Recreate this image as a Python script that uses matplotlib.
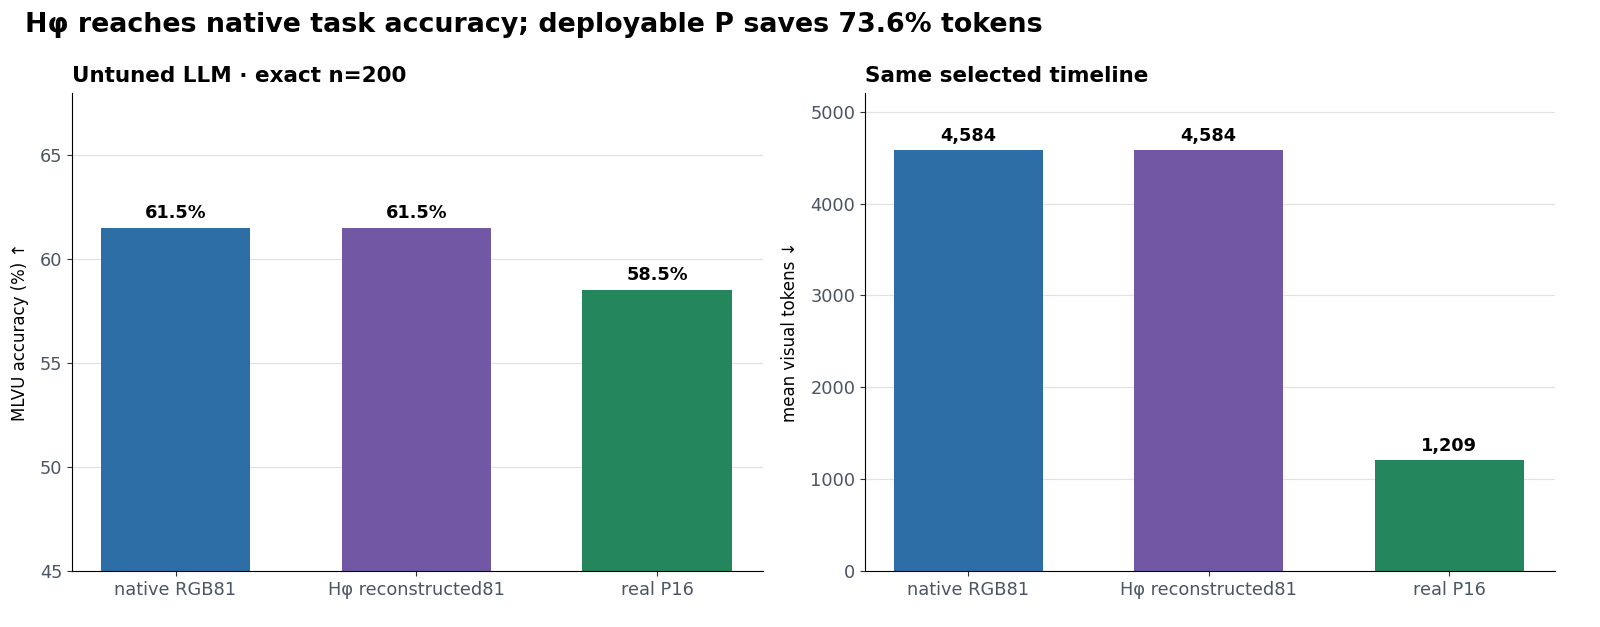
import matplotlib
matplotlib.use("Agg")
from matplotlib import pyplot as plt

methods = ["native RGB81", "Hφ reconstructed81", "real P16"]
accuracy = [61.5, 61.5, 58.5]
tokens = [4584, 4584, 1209]
colors = ["#2E6EA6", "#7257A4", "#24865C"]

tick_grey = "#4B5563"


def style_axis(ax):
    ax.spines["top"].set_visible(False)
    ax.spines["right"].set_visible(False)
    ax.yaxis.grid(True, color="#E3E3E3", linewidth=0.9)
    ax.set_axisbelow(True)
    ax.tick_params(axis="both", labelsize=12.8, colors=tick_grey)
    ax.tick_params(axis="both", color="#333333")
    ax.set_xlim(-0.43, 2.44)


def main():
    fig = plt.figure(figsize=(16, 6.27), dpi=100)
    ax1 = fig.add_axes([72 / 1600, 1 - 571 / 627, 691 / 1600, 478 / 627])
    ax2 = fig.add_axes([865 / 1600, 1 - 571 / 627, 690 / 1600, 478 / 627])

    x = range(len(methods))

    ax1.bar(x, accuracy, width=0.62, color=colors)
    ax1.set_ylim(45, 68)
    ax1.set_yticks([45, 50, 55, 60, 65])
    for i, v in enumerate(accuracy):
        ax1.text(i, v + 0.3, "%.1f%%" % v, ha="center", va="bottom",
                 fontsize=12.8, fontweight="bold")
    ax1.set_ylabel("MLVU accuracy (%) ↑", fontsize=12, labelpad=8)
    ax1.set_title("Untuned LLM · exact n=200", loc="left", fontsize=15.5,
                  fontweight="bold", pad=8)

    ax2.bar(x, tokens, width=0.62, color=colors)
    ax2.set_ylim(0, 5205)
    ax2.set_yticks([0, 1000, 2000, 3000, 4000, 5000])
    for i, v in enumerate(tokens):
        ax2.text(i, v + 55, "{:,}".format(v), ha="center", va="bottom",
                 fontsize=12.8, fontweight="bold")
    ax2.set_ylabel("mean visual tokens ↓", fontsize=12, labelpad=8)
    ax2.set_title("Same selected timeline", loc="left", fontsize=15.5,
                  fontweight="bold", pad=8)

    for ax in (ax1, ax2):
        style_axis(ax)
        ax.set_xticks(list(x))
        ax.set_xticklabels(methods)

    fig.text(25 / 1600, 1 - 25 / 627, "Hφ reaches native task accuracy; deployable P saves 73.6% tokens",
             fontsize=19.4, fontweight="bold", ha="left", va="center")

    fig.savefig("out.png", dpi=100)


if __name__ == '__main__':
    main()
